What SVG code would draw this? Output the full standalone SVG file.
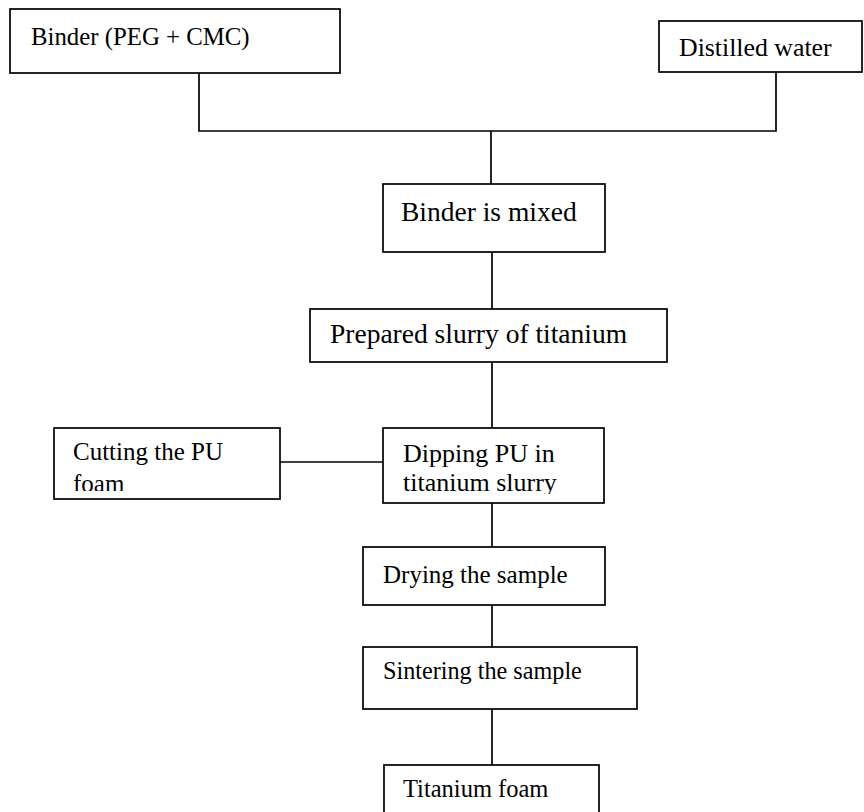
<svg xmlns="http://www.w3.org/2000/svg" width="864" height="812" viewBox="0 0 864 812">
<style>
.box{fill:#fff;stroke:#000;stroke-width:1.7}
.lbl{font-family:"Liberation Serif","Times New Roman",serif;font-size:24px;fill:#000}
.con{fill:none;stroke:#000;stroke-width:1.7}
</style>
<defs>
<clipPath id="clipCut"><rect x="55" y="429" width="224" height="62"/></clipPath>
<clipPath id="clipDip"><rect x="384" y="429" width="219" height="65"/></clipPath>
</defs>
<rect width="864" height="812" fill="#fff"/>
<g id="connectors">
<polyline class="con" points="199,73 199,131 776,131 776,72"/>
<line class="con" x1="491" y1="131" x2="491" y2="184"/>
<line class="con" x1="492" y1="252" x2="492" y2="309"/>
<line class="con" x1="492" y1="362" x2="492" y2="428"/>
<line class="con" x1="277" y1="462" x2="383" y2="462"/>
<line class="con" x1="492" y1="503" x2="492" y2="547"/>
<line class="con" x1="492" y1="605" x2="492" y2="647"/>
<line class="con" x1="492" y1="709" x2="492" y2="765"/>
</g>
<g id="binder">
<rect class="box" x="10" y="9" width="330" height="64"/>
<text class="lbl" x="31" y="45" style="font-size:24.8px">Binder (PEG + CMC)</text>
</g>
<g id="water">
<rect class="box" x="659" y="21" width="203" height="51"/>
<text class="lbl" x="679" y="56" style="font-size:25.8px">Distilled water</text>
</g>
<g id="mixed">
<rect class="box" x="383" y="184" width="222" height="68"/>
<text class="lbl" x="401" y="221" style="font-size:27.5px">Binder is mixed</text>
</g>
<g id="slurry">
<rect class="box" x="310" y="309" width="357" height="53"/>
<text class="lbl" x="330" y="343" style="font-size:27.5px">Prepared slurry of titanium</text>
</g>
<g id="cutting">
<rect class="box" x="54" y="428" width="226" height="71"/>
<text class="lbl" x="73" y="460" clip-path="url(#clipCut)" style="font-size:25px">Cutting the PU<tspan x="73" y="492">foam</tspan></text>
</g>
<g id="dipping">
<rect class="box" x="383" y="428" width="221" height="75"/>
<text class="lbl" x="403" y="462" clip-path="url(#clipDip)" style="font-size:26px">Dipping PU in<tspan x="403" y="491">titanium slurry</tspan></text>
</g>
<g id="drying">
<rect class="box" x="363" y="547" width="242" height="58"/>
<text class="lbl" x="383" y="583" style="font-size:25px">Drying the sample</text>
</g>
<g id="sintering">
<rect class="box" x="363" y="647" width="274" height="62"/>
<text class="lbl" x="383" y="679" style="font-size:24.2px">Sintering the sample</text>
</g>
<g id="foam">
<rect class="box" x="384" y="765" width="215" height="60"/>
<text class="lbl" x="403" y="797" style="font-size:24.5px">Titanium foam</text>
</g>
</svg>
